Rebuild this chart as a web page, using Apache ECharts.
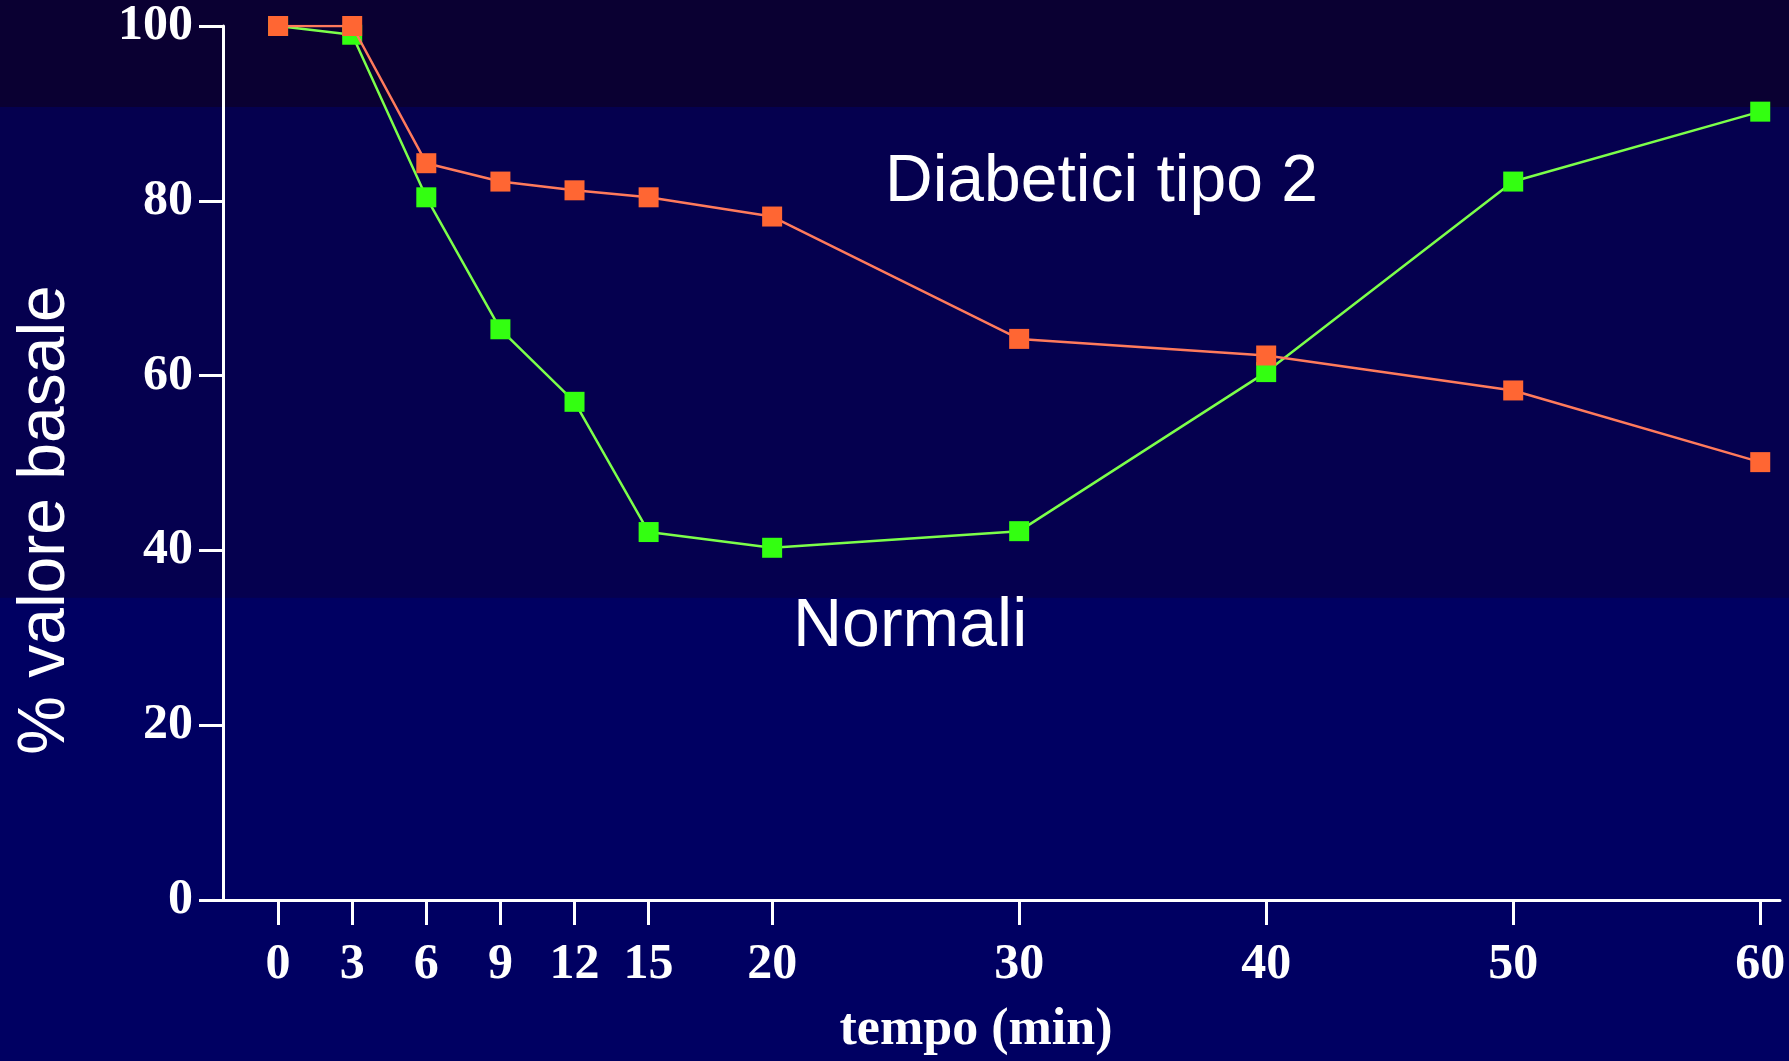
<!DOCTYPE html>
<html>
<head>
<meta charset="utf-8">
<title>% valore basale</title>
<script src="https://cdn.jsdelivr.net/npm/echarts@6/dist/echarts.min.js"></script>
<style>
  html, body { margin: 0; padding: 0; background: #000062; }
  #chart { width: 1789px; height: 1061px; }
</style>
</head>
<body>
<div id="chart"></div>
<script>
// Sampling times (min) and response as % of baseline
const tempo = [0, 3, 6, 9, 12, 15, 20, 30, 40, 50, 60];
const normali = [100, 99, 80.4, 65.3, 57.0, 42.1, 40.3, 42.2, 60.4, 82.2, 90.2];
const diabetici = [100, 100, 84.3, 82.2, 81.2, 80.4, 78.2, 64.2, 62.3, 58.3, 50.1];
const yTicks = [0, 20, 40, 60, 80, 100];

const pairs = (xs, ys) => xs.map((x, i) => [x, ys[i]]);

const serifBold = { color: '#ffffff', fontFamily: '"Liberation Serif", "Times New Roman", serif', fontWeight: 'bold' };
const sans = '"Liberation Sans", Arial, sans-serif';

const chart = echarts.init(document.getElementById('chart'), null, { renderer: 'canvas' });

chart.setOption({
  animation: false,
  backgroundColor: {
    type: 'linear', x: 0, y: 0, x2: 0, y2: 1,
    colorStops: [
      { offset: 0, color: '#0a0032' },
      { offset: 0.1005, color: '#0a0032' },
      { offset: 0.1010, color: '#05004f' },
      { offset: 0.5630, color: '#05004f' },
      { offset: 0.5640, color: '#000062' },
      { offset: 1, color: '#000062' }
    ]
  },
  grid: { left: 223, right: 9, top: 26, bottom: 161, containLabel: false },
  xAxis: {
    type: 'value',
    min: -2.23,
    max: 60.8,
    splitLine: { show: false },
    axisLine: { show: true, onZero: false, lineStyle: { color: '#ffffff', width: 3 } },
    axisTick: {
      show: true, inside: false, length: 25, customValues: tempo,
      lineStyle: { color: '#ffffff', width: 3 }
    },
    axisLabel: {
      ...serifBold, fontSize: 50, margin: 40, customValues: tempo,
      formatter: v => String(v)
    }
  },
  yAxis: {
    type: 'value',
    min: 0,
    max: 100,
    interval: 20,
    splitLine: { show: false },
    axisLine: { show: true, onZero: false, lineStyle: { color: '#ffffff', width: 3 } },
    axisTick: { show: true, inside: false, length: 24, lineStyle: { color: '#ffffff', width: 3 } },
    axisLabel: { ...serifBold, fontSize: 50, margin: 30, customValues: yTicks }
  },
  series: [
    {
      name: 'Normali',
      type: 'line',
      data: pairs(tempo, normali),
      symbol: 'rect',
      symbolSize: 20,
      lineStyle: { color: '#7cff4a', width: 2.5 },
      itemStyle: { color: '#33ff11' },
      z: 2
    },
    {
      name: 'Diabetici tipo 2',
      type: 'line',
      data: pairs(tempo, diabetici),
      symbol: 'rect',
      symbolSize: 20,
      lineStyle: { color: '#ff7a5c', width: 2.5 },
      itemStyle: { color: '#ff6633' },
      z: 3
    }
  ],
  graphic: [
    {
      type: 'text', x: 885, y: 183, z: 10,
      style: { text: 'Diabetici tipo 2', fill: '#ffffff', font: '66px ' + sans, textAlign: 'left', textVerticalAlign: 'middle' }
    },
    {
      type: 'text', x: 793, y: 627, z: 10,
      style: { text: 'Normali', fill: '#ffffff', font: '68px ' + sans, textAlign: 'left', textVerticalAlign: 'middle' }
    },
    {
      type: 'text', x: 46, y: 520, rotation: Math.PI / 2, z: 10,
      style: { text: '% valore basale', fill: '#ffffff', font: '66px ' + sans, textAlign: 'center', textVerticalAlign: 'middle' }
    },
    {
      type: 'text', x: 976, y: 1031, z: 10,
      style: { text: 'tempo (min)', fill: '#ffffff', font: 'bold 52px "Liberation Serif", "Times New Roman", serif', textAlign: 'center', textVerticalAlign: 'middle' }
    }
  ]
});
</script>
</body>
</html>
